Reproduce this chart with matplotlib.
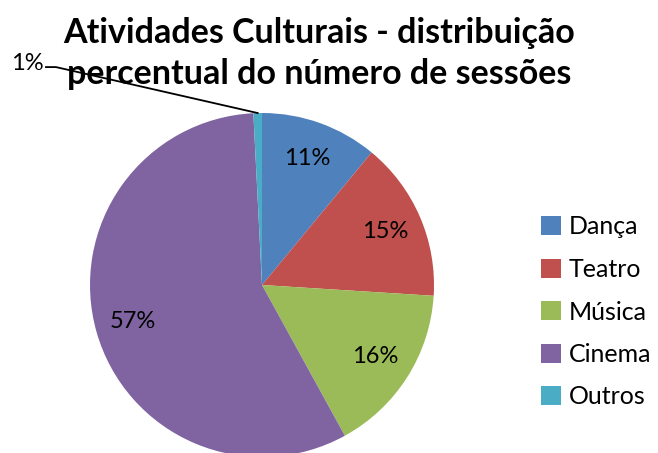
import numpy as np
import matplotlib
matplotlib.use('Agg')
import matplotlib.pyplot as plt
from matplotlib.patches import Patch
plt.rc('font', family=['Lato', 'DejaVu Sans'])

# Data
categorias = ['Dança', 'Teatro', 'Música', 'Cinema', 'Outros']
percentagens = [11, 15, 16, 57.2, 0.8]
rotulos = ['11%', '15%', '16%', '57%', '1%']
cores = ['#4F81BD', '#C0504D', '#9BBB59', '#8064A2', '#4BACC6']

fig = plt.figure(figsize=(6.58, 4.53), dpi=100)
ax = fig.add_axes([90 / 658, -4 / 453, 344 / 658, 344 / 453])

wedges, _ = ax.pie(percentagens, colors=cores, startangle=90,
                   counterclock=False, radius=1,
                   wedgeprops=dict(linewidth=0))
ax.set_xlim(-1, 1)
ax.set_ylim(-1, 1)
ax.set_aspect('equal')
ax.axis('off')
for w in wedges:
    w.set_clip_on(False)

# Percent labels inside the slices, last one outside with leader line
for w, txt in zip(wedges[:-1], rotulos[:-1]):
    ang = np.deg2rad((w.theta1 + w.theta2) / 2)
    ax.text(0.78 * np.cos(ang), 0.78 * np.sin(ang), txt,
            ha='center', va='center', fontsize=17)

fig.text(0.4856, 0.882, 'Atividades Culturais - distribuição\n'
         'percentual do número de sessões', ha='center', va='center',
         fontsize=24.5, fontweight='bold', linespacing=1.38, zorder=1)

w = wedges[-1]
ang = np.deg2rad((w.theta1 + w.theta2) / 2)
ax.plot([-1.256, -1.198, np.cos(ang)], [1.267, 1.267, np.sin(ang)],
        color='black', linewidth=1.3, clip_on=False, zorder=5)
ax.text(-1.27, 1.29, rotulos[-1], ha='right', va='center', fontsize=17)

handles = [Patch(facecolor=c, edgecolor='none') for c in cores]
fig.legend(handles, categorias, loc='center left',
           bbox_to_anchor=(541 / 658, 1 - 312 / 453), frameon=False,
           fontsize=18, handlelength=0.78, handleheight=0.78,
           handletextpad=0.32, labelspacing=0.78, borderpad=0,
           borderaxespad=0)

fig.savefig('out.png', dpi=100)
